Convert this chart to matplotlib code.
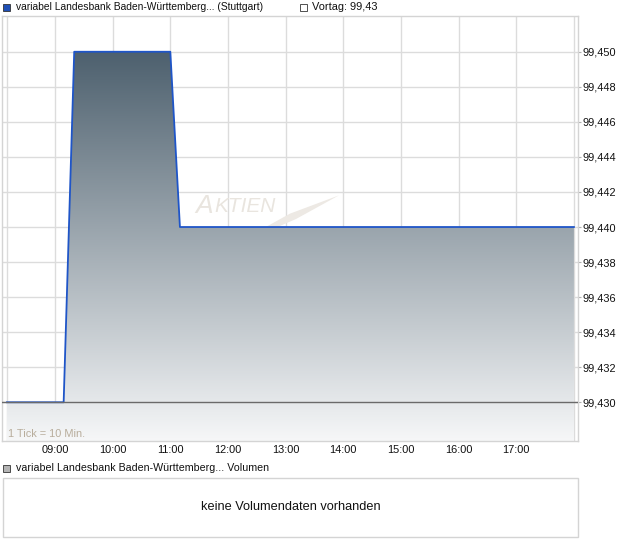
import numpy as np
import matplotlib.pyplot as plt
from matplotlib.colors import LinearSegmentedColormap
from matplotlib.patches import Rectangle, Polygon
from matplotlib.ticker import FuncFormatter

plt.rcParams["font.family"] = ["Liberation Sans", "DejaVu Sans"]

# intraday quotes (hours since midnight) and previous close
times = [8 + 10 / 60, 9 + 9 / 60, 9 + 20 / 60, 11.0, 11 + 10 / 60, 18.0]
prices = [99.430, 99.430, 99.450, 99.450, 99.440, 99.440]
prev_close = 99.43
hour_ticks = [9, 10, 11, 12, 13, 14, 15, 16, 17]
hour_labels = ["09:00", "10:00", "11:00", "12:00", "13:00", "14:00", "15:00", "16:00", "17:00"]
y_ticks = [99.430, 99.432, 99.434, 99.436, 99.438, 99.440, 99.442, 99.444, 99.446, 99.448, 99.450]

W, H = 620, 546
fig = plt.figure(figsize=(W / 100, H / 100), dpi=100)

def fx(px):
    return px / W

def fy(py):
    return 1 - py / H

ax = fig.add_axes([fx(2), fy(441), fx(578) - fx(2), fy(16) - fy(441)])
ax.set_xlim(8.0808, 18.0705)
ax.set_ylim(99.42779, 99.45204)

grid_c = "#dcdcdc"
for t in [8 + 10 / 60] + hour_ticks + [18.0]:
    ax.axvline(t, color=grid_c, lw=1, zorder=0)
for v in y_ticks:
    ax.axhline(v, color=grid_c, lw=1, zorder=0)

# gradient area under the price line
cmap = LinearSegmentedColormap.from_list("g", ["#4d606e", "#f6f7f8"])
grad = np.linspace(0, 1, 256).reshape(-1, 1)
y0 = ax.get_ylim()[0]
img = ax.imshow(grad, cmap=cmap, aspect="auto", origin="upper",
                extent=[times[0], times[-1], y0, max(prices)], zorder=1)
poly = Polygon(list(zip(times, prices)) + [(times[-1], y0), (times[0], y0)],
               closed=True, transform=ax.transData, facecolor="none", edgecolor="none")
ax.add_patch(poly)
img.set_clip_path(poly)

ax.plot(times, prices, color="#1f55c8", lw=1.3, zorder=3)
ax.axhline(prev_close, color="#6a6a6a", lw=1, zorder=4)

# watermark
ax.text(0.335, 0.553, "A", transform=ax.transAxes, fontsize=19, style="italic",
        color="#e9e5df", zorder=0.5, va="center")
ax.text(0.368, 0.551, "KTIEN", transform=ax.transAxes, fontsize=15, style="italic",
        color="#e9e5df", zorder=0.5, va="center")
ax.add_patch(Polygon([(0.44, 0.49), (0.50, 0.535), (0.585, 0.578), (0.51, 0.522), (0.455, 0.49)],
                     closed=True, transform=ax.transAxes, facecolor="#ede9e4",
                     edgecolor="none", zorder=0.5))

for s in ax.spines.values():
    s.set_color("#d4d4d4")
    s.set_linewidth(1)

ax.yaxis.tick_right()
ax.set_yticks(y_ticks)
ax.yaxis.set_major_formatter(FuncFormatter(lambda v, p: f"{v:.3f}".replace(".", ",")))
ax.tick_params(axis="y", length=2.5, color="#b0b0b0", labelsize=7.9, pad=0.5, labelcolor="#111111")
ax.set_xticks(hour_ticks)
ax.set_xticklabels(hour_labels)
ax.tick_params(axis="x", length=0, labelsize=7.9, pad=3, labelcolor="#111111")

ax.text(fx(8), fy(434), "1 Tick = 10 Min.", transform=fig.transFigure, fontsize=7.9,
        color="#b8ad9c", va="center", ha="left", zorder=6)

# top legend
fig.patches.append(Rectangle((fx(3), fy(11)), fx(7), fy(0) - fy(7), transform=fig.transFigure,
                             facecolor="#1f4fb5", edgecolor="#333333", lw=0.6))
fig.text(fx(16), fy(7), "variabel Landesbank Baden-Württemberg... (Stuttgart)",
         fontsize=7.4, va="center", ha="left", color="#111111")
fig.patches.append(Rectangle((fx(300), fy(11)), fx(7), fy(0) - fy(7), transform=fig.transFigure,
                             facecolor="white", edgecolor="#333333", lw=0.6))
fig.text(fx(312), fy(7), "Vortag: 99,43", fontsize=7.9, va="center", ha="left", color="#111111")

# volume panel
fig.patches.append(Rectangle((fx(3), fy(472)), fx(7), fy(0) - fy(7), transform=fig.transFigure,
                             facecolor="#b4b4b4", edgecolor="#333333", lw=0.6))
fig.text(fx(16), fy(468), "variabel Landesbank Baden-Württemberg... Volumen",
         fontsize=7.7, va="center", ha="left", color="#111111")
fig.patches.append(Rectangle((fx(3), fy(537)), fx(578) - fx(3), fy(478) - fy(537),
                             transform=fig.transFigure, facecolor="white",
                             edgecolor="#d4d4d4", lw=1))
fig.text(fx(291), fy(507), "keine Volumendaten vorhanden", fontsize=9.2,
         va="center", ha="center", color="#111111")

fig.savefig("out.png", dpi=100)
